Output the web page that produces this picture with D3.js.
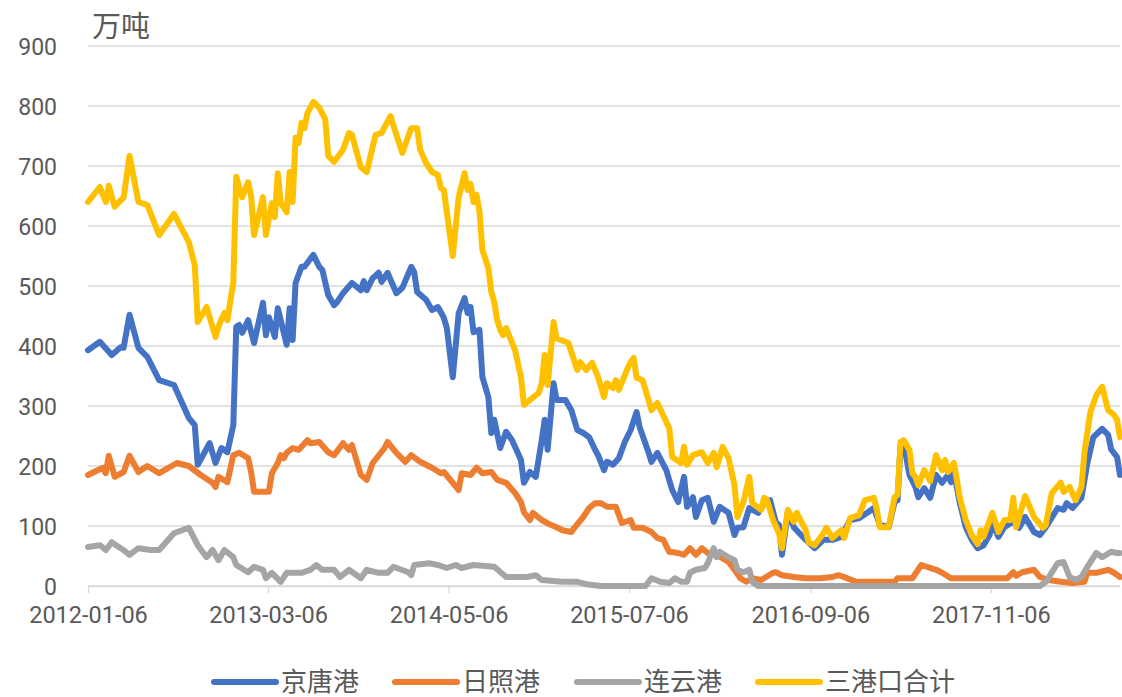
<!DOCTYPE html>
<html>
<head>
<meta charset="utf-8">
<script src="https://cdn.jsdelivr.net/npm/d3@7"></script>
<style>
  html, body { margin: 0; padding: 0; background: #ffffff; }
  svg { display: block; }
</style>
</head>
<body>
<svg id="chart" width="1122" height="697"></svg>
<script>
// Weekly port coal stocks (万吨). Each point is [week number counted from 2012-01-06, value].
const startDate = "2012-01-06";
const endWeek = 348;

const jingtang = [[0,393],[4,407],[8,385],[11,398],[12,397],[14,452],[17,397],[20,382],[24,343],[29,335],[34,280],[36,268],[37,202],[41,238],[43,205],[45,230],[47,223],[49,268],[50,432],[51,435],[52,422],[54,443],[56,405],[59,472],[60,418],[61,448],[63,415],[64,463],[67,402],[68,463],[69,410],[70,505],[72,532],[73,532],[76,552],[78,532],[79,527],[81,485],[83,468],[84,473],[86,488],[89,505],[92,493],[93,508],[94,493],[96,513],[98,522],[99,507],[101,522],[104,488],[106,497],[109,532],[110,523],[111,490],[114,477],[116,460],[118,465],[120,447],[121,430],[123,348],[125,455],[127,480],[128,455],[129,465],[130,423],[132,427],[133,348],[135,315],[136,255],[137,277],[139,230],[141,257],[143,243],[144,232],[146,210],[147,172],[149,190],[151,182],[153,243],[154,277],[155,227],[157,338],[158,310],[161,310],[163,293],[165,260],[167,255],[169,248],[171,227],[172,218],[174,193],[175,207],[177,202],[179,213],[181,240],[183,260],[185,290],[186,265],[189,223],[190,207],[192,222],[195,193],[197,160],[199,140],[201,182],[202,132],[204,148],[205,115],[207,143],[209,147],[211,107],[213,132],[216,122],[218,85],[219,97],[221,98],[223,130],[226,122],[228,138],[230,143],[232,105],[233,102],[234,52],[236,122],[238,98],[241,82],[245,63],[248,77],[251,77],[254,82],[257,110],[260,113],[263,123],[265,130],[267,102],[270,98],[272,140],[273,143],[274,235],[275,240],[277,185],[279,165],[280,148],[282,163],[284,147],[286,185],[288,172],[290,185],[291,173],[292,190],[294,138],[296,98],[298,77],[300,63],[302,68],[304,85],[305,105],[307,82],[309,98],[312,107],[314,97],[316,115],[319,90],[321,85],[323,98],[327,130],[329,127],[330,138],[332,130],[335,147],[337,205],[339,248],[342,262],[344,252],[345,228],[347,215],[348,185]];

const rizhao = [[0,185],[5,197],[6,188],[7,217],[9,182],[12,190],[14,217],[17,190],[20,200],[24,188],[30,205],[34,200],[38,185],[42,172],[43,165],[44,182],[47,173],[49,218],[51,222],[54,213],[55,190],[56,157],[61,157],[62,188],[64,205],[65,218],[66,213],[67,222],[69,230],[71,227],[72,232],[74,243],[75,238],[78,240],[81,223],[83,218],[86,238],[88,227],[89,235],[92,185],[94,177],[96,205],[100,230],[101,240],[104,222],[107,207],[109,218],[112,207],[114,202],[116,197],[119,188],[120,190],[125,160],[126,188],[129,185],[131,197],[133,188],[136,190],[138,177],[141,172],[144,155],[146,140],[147,123],[149,110],[150,122],[153,110],[156,102],[158,98],[160,93],[163,90],[164,97],[167,115],[169,130],[171,138],[173,138],[175,132],[178,132],[180,105],[183,110],[184,97],[187,97],[190,90],[192,80],[194,77],[196,57],[199,55],[201,52],[203,63],[205,52],[207,63],[209,55],[212,52],[216,40],[218,27],[220,13],[222,7],[224,13],[227,10],[231,22],[232,23],[234,18],[238,15],[242,13],[247,13],[251,15],[253,18],[256,13],[259,7],[263,7],[272,7],[273,13],[278,13],[281,35],[286,27],[288,22],[291,13],[310,13],[312,23],[313,17],[315,23],[319,27],[321,15],[324,10],[328,7],[332,5],[336,7],[337,22],[340,22],[344,27],[346,22],[348,15]];

const lianyungang = [[0,65],[4,68],[6,60],[8,73],[11,63],[12,60],[14,52],[17,63],[21,60],[24,60],[29,88],[34,97],[37,68],[40,48],[42,60],[44,43],[46,60],[49,48],[50,35],[54,23],[56,32],[59,27],[60,13],[62,22],[65,7],[67,22],[72,22],[75,27],[77,35],[79,27],[83,27],[85,15],[88,27],[92,13],[94,27],[98,22],[101,22],[103,32],[108,23],[109,18],[110,35],[115,38],[118,35],[121,30],[124,35],[126,30],[130,35],[137,32],[141,15],[148,15],[151,18],[153,10],[160,7],[165,7],[168,3],[173,0],[188,0],[190,13],[193,7],[196,5],[198,13],[200,7],[202,7],[203,22],[205,27],[208,30],[209,38],[211,63],[212,48],[213,57],[216,48],[218,43],[219,27],[221,23],[223,27],[224,7],[226,0],[321,0],[323,7],[327,38],[329,40],[331,15],[333,10],[335,15],[337,32],[340,55],[342,48],[345,57],[347,55],[348,55]];

const total = [[0,640],[4,665],[6,640],[7,667],[9,632],[11,643],[12,647],[14,717],[17,640],[20,635],[24,585],[29,620],[34,573],[36,535],[37,440],[40,465],[43,415],[44,432],[45,445],[46,455],[47,443],[48,475],[49,505],[50,682],[52,648],[54,673],[55,650],[56,585],[59,648],[60,585],[62,638],[63,615],[64,688],[65,638],[67,623],[68,690],[69,640],[70,747],[71,738],[72,772],[73,763],[74,788],[76,807],[78,797],[80,778],[81,717],[83,707],[86,727],[88,755],[89,752],[92,698],[94,690],[96,732],[97,752],[99,755],[102,783],[104,752],[106,722],[109,763],[111,763],[112,727],[114,705],[116,690],[118,685],[119,663],[120,660],[123,550],[125,648],[127,688],[128,660],[129,670],[130,640],[131,652],[132,625],[133,560],[135,530],[136,490],[137,473],[138,443],[139,427],[140,418],[141,430],[144,393],[146,348],[147,302],[149,310],[152,322],[153,338],[154,385],[155,335],[157,440],[158,413],[162,405],[165,360],[166,373],[168,360],[170,372],[172,348],[174,315],[175,338],[177,330],[178,343],[179,327],[182,363],[183,373],[184,380],[185,347],[187,343],[189,310],[190,293],[192,305],[196,263],[197,215],[200,205],[201,232],[202,202],[204,218],[207,223],[209,205],[211,222],[212,198],[214,232],[216,213],[218,168],[219,115],[221,140],[223,182],[224,138],[227,127],[228,147],[229,143],[231,110],[233,88],[234,63],[236,127],[238,107],[239,122],[242,93],[243,73],[245,68],[248,88],[249,97],[251,80],[254,93],[255,80],[257,113],[260,118],[262,143],[265,147],[266,127],[267,98],[270,98],[272,148],[273,152],[274,240],[275,243],[277,227],[278,188],[279,182],[280,168],[282,193],[284,175],[286,218],[288,193],[289,210],[290,190],[292,205],[294,147],[296,110],[298,85],[300,70],[301,93],[302,82],[305,122],[307,90],[309,110],[311,110],[312,147],[313,98],[316,150],[319,115],[322,97],[323,102],[325,155],[328,172],[329,157],[331,165],[333,143],[335,165],[336,222],[338,290],[340,318],[342,332],[344,293],[346,285],[347,277],[348,248]];

const seriesNames = ["京唐港", "日照港", "连云港", "三港口合计"];
const seriesColors = ["#4472C4", "#ED7D31", "#A5A5A5", "#FFC000"];
const seriesData = [jingtang, rizhao, lianyungang, total];

const xTickLabels = ["2012-01-06", "2013-03-06", "2014-05-06", "2015-07-06", "2016-09-06", "2017-11-06"];
const yTicks = [0, 100, 200, 300, 400, 500, 600, 700, 800, 900];
const unitLabel = "万吨";

const numFont = "Roboto, 'Liberation Sans', sans-serif";
const cjkFont = "'Noto Sans CJK SC', sans-serif";
const textColor = "#595959";
const gridColor = "#D9D9D9";

const svg = d3.select("#chart");
const margin = { left: 88, right: 1120, top: 46, bottom: 586 };

const parse = d3.timeParse("%Y-%m-%d");
const start = parse(startDate);
const weekToDate = w => d3.timeDay.offset(start, 7 * w);

const x = d3.scaleTime()
  .domain([start, weekToDate(endWeek)])
  .range([margin.left, margin.right]);
const y = d3.scaleLinear()
  .domain([0, 900])
  .range([margin.bottom, margin.top]);

// horizontal gridlines
svg.append("g")
  .selectAll("line")
  .data(yTicks)
  .join("line")
  .attr("x1", margin.left).attr("x2", margin.right)
  .attr("y1", d => y(d)).attr("y2", d => y(d))
  .attr("stroke", gridColor).attr("stroke-width", 1.3);

// y axis labels
const yAxis = d3.axisLeft(y).tickValues(yTicks).tickSize(0).tickPadding(0);
const yg = svg.append("g").attr("transform", "translate(57,0)").call(yAxis);
yg.select(".domain").remove();
yg.selectAll("text")
  .attr("fill", textColor)
  .style("font-family", numFont)
  .style("font-size", "23px")
  .attr("dy", "0.36em");

// x axis with small tick marks below the baseline
const xTickDates = xTickLabels.map(parse);
const xAxis = d3.axisBottom(x)
  .tickValues(xTickDates)
  .tickFormat(d3.timeFormat("%Y-%m-%d"))
  .tickSize(7)
  .tickSizeOuter(0)
  .tickPadding(13);
const xg = svg.append("g").attr("transform", `translate(0,${margin.bottom})`).call(xAxis);
xg.select(".domain").attr("stroke", gridColor).attr("stroke-width", 1.3);
xg.selectAll(".tick line").attr("stroke", gridColor).attr("stroke-width", 1.3);
xg.selectAll("text")
  .attr("fill", textColor)
  .style("font-family", numFont)
  .style("font-size", "23.5px");

// unit label
svg.append("text")
  .attr("x", 92).attr("y", 37)
  .attr("fill", textColor)
  .style("font-family", cjkFont)
  .style("font-size", "29px")
  .text(unitLabel);

// series lines
const line = d3.line()
  .x(d => x(weekToDate(d[0])))
  .y(d => y(d[1]))
  .curve(d3.curveLinear);

svg.append("g")
  .selectAll("path")
  .data(seriesData)
  .join("path")
  .attr("d", line)
  .attr("fill", "none")
  .attr("stroke", (d, i) => seriesColors[i])
  .attr("stroke-width", 6)
  .attr("stroke-linejoin", "round")
  .attr("stroke-linecap", "round");

// legend
const legendX = [214, 395, 577, 758];
const legend = svg.append("g")
  .selectAll("g")
  .data(seriesNames)
  .join("g")
  .attr("transform", (d, i) => `translate(${legendX[i]},682)`);
legend.append("line")
  .attr("x1", 0).attr("x2", 62)
  .attr("stroke", (d, i) => seriesColors[i])
  .attr("stroke-width", 6)
  .attr("stroke-linecap", "round");
legend.append("text")
  .attr("x", 67).attr("y", 0).attr("dy", "0.36em")
  .attr("fill", textColor)
  .style("font-family", cjkFont)
  .style("font-size", "26px")
  .text(d => d);
</script>
</body>
</html>
